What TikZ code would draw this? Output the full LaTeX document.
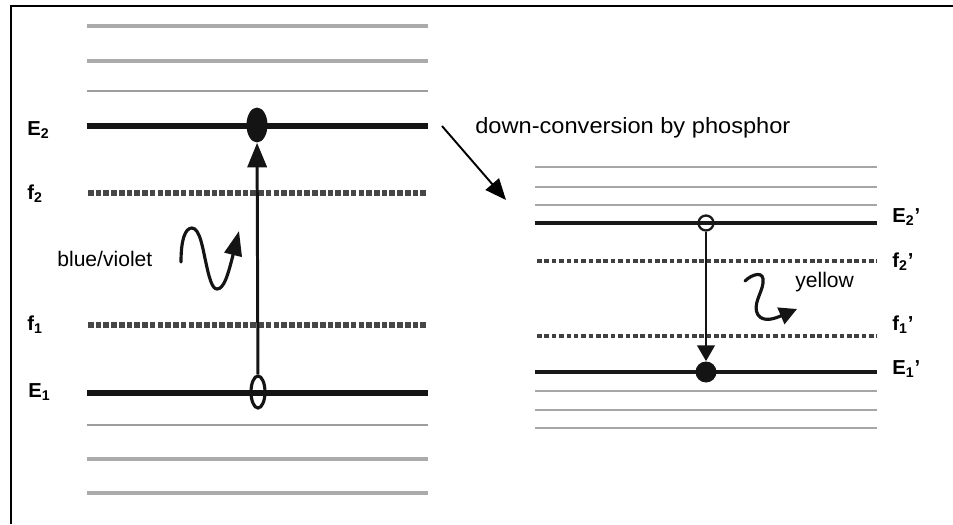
\documentclass[tikz,border=0pt]{standalone}
\usepackage{fontspec}
\usepackage{graphicx}
\setmainfont{Liberation Sans}
\usetikzlibrary{arrows.meta,shapes.geometric}
\begin{document}
\begin{tikzpicture}[x=0.02cm,y=-0.02cm,
  frameline/.style={draw=black,line width=1.15pt},
  graythick/.style={draw=black!33,line width=2.8pt},
  graythin/.style={draw=black!38,line width=0.9pt},
  elevel/.style={draw=black!92,line width=3.6pt},
  flevel/.style={draw=black!72,line width=3.2pt,dash pattern=on 3.2pt off 1.2pt},
  eplevel/.style={draw=black!90,line width=2.4pt},
  fplevel/.style={draw=black!75,line width=2pt,dash pattern=on 2.6pt off 1.6pt},
  rthin/.style={draw=black!35,line width=0.9pt},
  lab/.style={font=\bfseries\fontsize{11.5}{13}\selectfont,inner sep=0pt},
  txt/.style={font=\fontsize{12}{14}\selectfont,inner sep=0pt},
  photon/.style={draw=black!92,line width=1.8pt,line cap=round},
  transition/.style={draw=black!92,line width=1.7pt}
]
\useasboundingbox (0,0) rectangle (953,524);
% frame (only left and top edges visible)
\draw[frameline] (11,524) -- (11,6) -- (953,6);

% ---- left level scheme ----
\draw[graythick] (87,26) -- (428,26);
\draw[graythick] (87,61) -- (428,61);
\draw[graythin] (87,91) -- (428,91);
\draw[elevel] (87,126) -- (428,126);
\draw[flevel] (88,193) -- (428,193);
\draw[flevel] (88,325) -- (428,325);
\draw[elevel] (87,393) -- (428,393);
\draw[graythin] (87,425) -- (428,425);
\draw[graythick] (87,459) -- (428,459);
\draw[graythick] (87,493) -- (428,493);

\node[ellipse,fill=black!92,minimum width=0.42cm,minimum height=0.7cm,inner sep=0pt] (e2dot) at (257,125) {};
\node[ellipse,draw=black!92,line width=1.8pt,minimum width=0.28cm,minimum height=0.64cm,inner sep=0pt] (e1dot) at (258,392) {};
\draw[transition,-{Triangle[length=14pt,width=11pt]}] (e1dot) -- (e2dot);

% blue/violet photon
\draw[photon,-{Triangle[length=14pt,width=10pt]}]
  (181,262) .. controls (181,240) and (185,228) .. (192,228)
  .. controls (200,228) and (203,250) .. (206,263)
  .. controls (209,277) and (212,289) .. (217,289)
  .. controls (224,289) and (228,275) .. (239,231);

% labels left
\node[lab,anchor=base west] (lE2) at (27,135) {E\textsubscript{2}};
\node[lab,anchor=base west] (lf2) at (27,199) {f\textsubscript{2}};
\node[lab,anchor=base west] (lf1) at (27,330) {f\textsubscript{1}};
\node[lab,anchor=base west] (lE1) at (28,397) {E\textsubscript{1}};
\node[txt,anchor=base west] (tbv) at (57,266) {blue/violet};

% ---- down-conversion arrow ----
\node[txt,anchor=base west] (tdc) at (475,133) {\scalebox{1.12}[1.05]{down-conversion by phosphor}};
\coordinate (d1) at (442,126);
\coordinate (d2) at (506,200);
\draw[line width=1.1pt,-{Triangle[length=12pt,width=10pt]}] (d1) -- (d2);

% ---- right level scheme ----
\draw[rthin] (535,167) -- (877,167);
\draw[rthin] (535,187) -- (877,187);
\draw[rthin,line width=0.7pt] (535,205) -- (877,205);
\draw[eplevel] (535,223) -- (877,223);
\draw[fplevel] (537,261) -- (877,261);
\draw[fplevel] (537,336) -- (877,336);
\draw[eplevel] (535,372) -- (877,372);
\draw[rthin] (535,391) -- (877,391);
\draw[rthin] (535,410) -- (877,410);
\draw[rthin] (535,428) -- (877,428);

\node[circle,draw=black!90,line width=1.3pt,minimum size=0.3cm,inner sep=0pt] (e2p) at (706,223) {};
\node[circle,fill=black!92,minimum size=0.42cm,inner sep=0pt] (e1p) at (706,372) {};
\draw[transition,line width=1.4pt,-{Triangle[length=9pt,width=10pt]}] (e2p) -- (e1p);

% yellow photon
\draw[photon,-{Triangle[length=10pt,width=10pt]}]
  (745,281) .. controls (752,274) and (765,270) .. (763,283)
  .. controls (762,293) and (752,305) .. (758,315)
  .. controls (764,323) and (776,318) .. (797,309);

% labels right
\node[lab,anchor=base west] (lE2p) at (892,222) {E\textsubscript{2}’};
\node[lab,anchor=base west] (lf2p) at (892,267) {f\textsubscript{2}’};
\node[lab,anchor=base west] (lf1p) at (892,330) {f\textsubscript{1}’};
\node[lab,anchor=base west] (lE1p) at (892,374) {E\textsubscript{1}’};
\node[txt,anchor=base west] (tyel) at (795,287) {yellow};
\end{tikzpicture}
\end{document}
